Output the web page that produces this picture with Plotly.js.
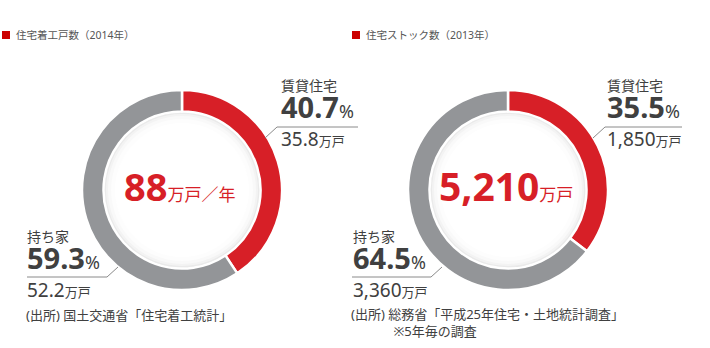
<!DOCTYPE html>
<html><head><meta charset="utf-8">
<script src="https://cdn.plot.ly/plotly-3.0.1.min.js"></script>
<style>html,body{margin:0;padding:0;background:#fff}</style>
</head><body><div id="chart" style="width:710px;height:348px"></div>
<script>
// ---- data ----
const categories = ["賃貸住宅", "持ち家"];
const startsValues = [35.8, 52.2];        // 万戸 (2014)
const startsPct = [40.7, 59.3];
const startsTotal = "88";
const stockValues = [1850, 3360];         // 万戸 (2013)
const stockPct = [35.5, 64.5];
const stockTotal = "5,210";
const titles = ["住宅着工戸数（2014年）", "住宅ストック数（2013年）"];
const sources = ["(出所) 国土交通省「住宅着工統計」", "(出所) 総務省「平成25年住宅・土地統計調査」"];
const note = "※5年毎の調査";

// ---- styling helpers ----
const W = 710, H = 348;
const RED = "#d71f27", GRAY = "#939598", TXT = "#404040";
const FONT = "Noto Sans, Noto Sans CJK JP, sans-serif";
const px = x => x / W, py = y => 1 - y / H;
function fmt(v){ return v.toLocaleString("en-US"); }

function donut(values, cx, cy, r){
  return {
    type: "pie", values: values, labels: categories, sort: false,
    direction: "clockwise", rotation: 0, hole: 0.785,
    marker: {colors: [RED, GRAY], line: {color: "#fff", width: 2.5}},
    textinfo: "none", hoverinfo: "skip", showlegend: false,
    domain: {x: [px(cx - r), px(cx + r)], y: [py(cy + r), py(cy - r)]}
  };
}
const traces = [donut(startsValues, 182, 190, 100), donut(stockValues, 508, 190, 100)];

const shapes = [];
function circle(cx, cy, r, fill){
  shapes.push({type: "circle", xref: "paper", yref: "paper", layer: "below",
    x0: px(cx - r), x1: px(cx + r), y0: py(cy + r), y1: py(cy - r),
    fillcolor: fill, line: {width: 0}});
}
function hole(cx, cy){
  circle(cx, cy, 78.5, "#d9d9d9");
  circle(cx, cy, 77.5, "rgba(255,255,255,0.45)");
  circle(cx, cy, 76, "rgba(255,255,255,0.45)");
  circle(cx, cy, 74, "rgba(255,255,255,0.5)");
  circle(cx, cy, 71, "rgba(255,255,255,0.6)");
  circle(cx, cy, 67, "#ffffff");
}
hole(182, 190); hole(508, 190);

function leader(pts){
  let d = "M" + pts.map(p => px(p[0]) + "," + py(p[1])).join(" L");
  shapes.push({type: "path", xref: "paper", yref: "paper", path: d, line: {color: "#8a8a8a", width: 1}});
}
leader([[265, 138], [277, 127], [358, 127]]);
leader([[27, 277], [107, 277], [118, 267]]);
leader([[593, 138], [605, 127], [682, 127]]);
leader([[352, 277], [431, 277], [442, 267]]);

// red header squares
[[2, 31], [352, 31]].forEach(p => shapes.push({type: "rect", xref: "paper", yref: "paper",
  x0: px(p[0]), x1: px(p[0] + 8), y0: py(p[1] + 8), y1: py(p[1]), fillcolor: "#cc0000", line: {width: 0}}));

const ann = [];
function txt(x, y, text, size, opts){
  ann.push(Object.assign({xref: "paper", yref: "paper", x: px(x), y: py(y), text: text, showarrow: false,
    xanchor: "left", yanchor: "middle", align: "left", font: {family: FONT, size: size, color: TXT}}, opts || {}));
}
// one stacked label: category / percent / households
function stack(cat, pct, val){
  return "<span style='font-size:14px'>" + cat + "</span><br>" +
    "<span style='font-size:29px'><b>" + pct + "</b></span><span style='font-size:18px'>%</span><br>" +
    "<span style='font-size:19px'>" + val + "</span><span style='font-size:13px'>万戸</span>";
}

// headers
txt(14, 35, titles[0], 10.5, {font: {family: FONT, size: 10.5, color: "#555"}});
txt(364, 35, titles[1], 10.5, {font: {family: FONT, size: 10.5, color: "#555"}});

// left chart labels
txt(279, 114, stack(categories[0], startsPct[0], fmt(startsValues[0])), 21);
txt(25, 265, stack(categories[1], startsPct[1], fmt(startsValues[1])), 21);
txt(24, 315, sources[0], 13);

// right chart labels
txt(605, 114, stack(categories[0], stockPct[0], fmt(stockValues[0])), 21);
txt(351, 265, stack(categories[1], stockPct[1], fmt(stockValues[1])), 21);
txt(349, 322, sources[1] + "<br>　　　&nbsp;" + note, 13);

// center totals
ann.push({xref: "paper", yref: "paper", x: px(179), y: py(186), showarrow: false, xanchor: "center", yanchor: "middle",
  text: "<b>" + startsTotal + "</b><span style='font-size:17px'>万戸／年</span>", font: {family: FONT, size: 38, color: RED}});
ann.push({xref: "paper", yref: "paper", x: px(506), y: py(186), showarrow: false, xanchor: "center", yanchor: "middle",
  text: "<b>" + stockTotal + "</b><span style='font-size:17px'>万戸</span>", font: {family: FONT, size: 39, color: RED}});

Plotly.newPlot("chart", traces, {
  width: W, height: H, autosize: false, margin: {l: 0, r: 0, t: 0, b: 0},
  paper_bgcolor: "#fff", plot_bgcolor: "#fff", shapes: shapes, annotations: ann
}, {displayModeBar: false, staticPlot: true});
</script></body></html>
